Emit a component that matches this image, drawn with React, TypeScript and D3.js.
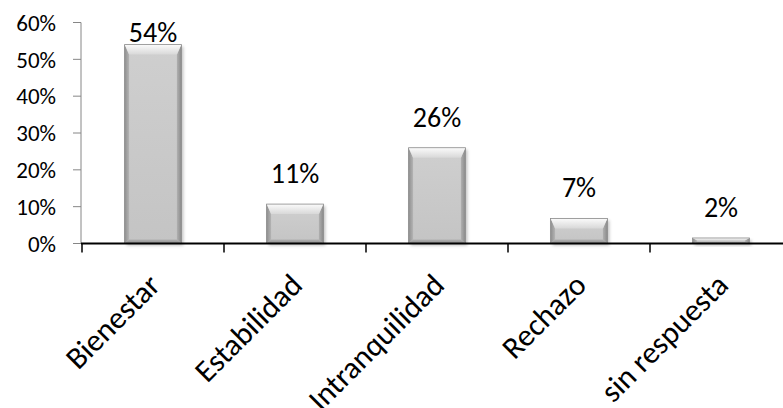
import React from "react";
import * as d3 from "d3";

const categories = ["Bienestar", "Estabilidad", "Intranquilidad", "Rechazo", "sin respuesta"];
const values = [0.54, 0.107, 0.26, 0.068, 0.015];
const yTicks = [0, 0.1, 0.2, 0.3, 0.4, 0.5, 0.6];

const W = 783;
const H = 408;
const FONT = "Carlito, Calibri, Lato, sans-serif";

export default function App() {
  const x = d3.scaleBand<string>().domain(categories).range([82, 792]).padding(0);
  const y = d3.scaleLinear().domain([0, 0.6]).range([243.5, 22.5]);
  const step = x.step();
  const bw = step * 0.4;
  const y0 = y(0);

  return (
    <svg width={W} height={H} style={{ position: "absolute", left: 0, top: 0, background: "#fff" }}>
      <defs>
        <linearGradient id="body" x1="0" y1="0" x2="0" y2="1">
          <stop offset="0" stopColor="#cfcfcf" />
          <stop offset="1" stopColor="#c4c4c4" />
        </linearGradient>
        <linearGradient id="topB" x1="0" y1="0" x2="0" y2="1">
          <stop offset="0" stopColor="#fbfbfb" />
          <stop offset="1" stopColor="#d8d8d8" />
        </linearGradient>
        <linearGradient id="leftB" x1="0" y1="0" x2="1" y2="0">
          <stop offset="0" stopColor="#8e8e8e" />
          <stop offset="1" stopColor="#b4b4b4" />
        </linearGradient>
        <linearGradient id="rightB" x1="0" y1="0" x2="1" y2="0">
          <stop offset="0" stopColor="#b0b0b0" />
          <stop offset="1" stopColor="#8a8a8a" />
        </linearGradient>
        <linearGradient id="botB" x1="0" y1="0" x2="0" y2="1">
          <stop offset="0" stopColor="#b0b0b0" />
          <stop offset="1" stopColor="#909090" />
        </linearGradient>
        <filter id="sh" x="-20%" y="-20%" width="140%" height="140%">
          <feGaussianBlur stdDeviation="1.5" />
        </filter>
      </defs>

      {/* y axis */}
      <line x1={81} x2={81} y1={y(0.6)} y2={y0} stroke="#868686" strokeWidth={1} />
      {yTicks.map((t) => (
        <g key={t}>
          <line x1={73} x2={81} y1={y(t)} y2={y(t)} stroke="#868686" strokeWidth={1} />
          <text x={56} y={y(t)} dy="0.36em" textAnchor="end" fontFamily={FONT} fontSize={23} fill="#000">
            {d3.format(".0%")(t)}
          </text>
        </g>
      ))}

      {/* bars */}
      {categories.map((c, i) => {
        const v = values[i];
        const cx = (x(c) as number) + step / 2;
        const bx = cx - bw / 2;
        const by = y(v);
        const h = y0 - by;
        const tb = Math.min(10, h * 0.45);
        const sb = Math.min(4.5, bw / 4);
        const bb = Math.min(4, h * 0.3);
        const x1 = bx, x2 = bx + bw, yt = by, yb = y0;
        return (
          <g key={c}>
            <rect x={x1 + 2} y={yt + 2} width={bw} height={h} fill="#7a7a7a" opacity={0.45} filter="url(#sh)" />
            <rect x={x1} y={yt} width={bw} height={h} fill="url(#body)" />
            <polygon points={`${x1},${yt} ${x1 + sb},${yt + tb} ${x1 + sb},${yb - bb} ${x1},${yb}`} fill="url(#leftB)" />
            <polygon points={`${x2},${yt} ${x2 - sb},${yt + tb} ${x2 - sb},${yb - bb} ${x2},${yb}`} fill="url(#rightB)" />
            <polygon points={`${x1},${yb} ${x1 + sb},${yb - bb} ${x2 - sb},${yb - bb} ${x2},${yb}`} fill="url(#botB)" />
            <polygon points={`${x1},${yt} ${x2},${yt} ${x2 - sb},${yt + tb} ${x1 + sb},${yt + tb}`} fill="url(#topB)" />
            <rect x={x1} y={yt} width={bw} height={h} fill="none" stroke="#8c8c8c" strokeWidth={0.8} />
            <text
              x={cx}
              y={Math.max(42, by - 21)}
              textAnchor="middle"
              fontFamily={FONT}
              fontSize={28}
              fill="#000"
            >
              {Math.round(v * 100) + "%"}
            </text>
          </g>
        );
      })}

      {/* x axis */}
      <line x1={81} x2={W} y1={y0} y2={y0} stroke="#000" strokeWidth={2} />
      {categories.map((c) => (
        <line key={c} x1={x(c) as number} x2={x(c) as number} y1={y0} y2={y0 + 9} stroke="#000" strokeWidth={1.5} />
      ))}
      {categories.map((c) => {
        const cx = (x(c) as number) + step / 2;
        return (
          <text
            key={c}
            transform={`translate(${cx + 9},${287}) rotate(-45)`}
            textAnchor="end"
            fontFamily={FONT}
            fontSize={31}
            fill="#000"
          >
            {c}
          </text>
        );
      })}
    </svg>
  );
}
